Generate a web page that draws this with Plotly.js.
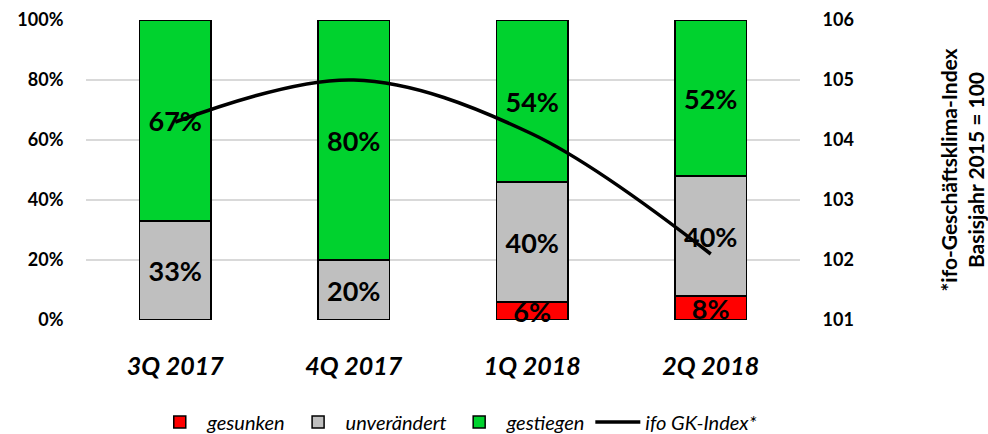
<!DOCTYPE html>
<html><head><meta charset="utf-8">
<script src="https://cdn.plot.ly/plotly-3.0.1.min.js"></script>
<style>body{margin:0;padding:0;background:#fff}#chart{width:988px;height:434px}</style>
</head><body><div id="chart"></div>
<script>
const categories = ["3Q 2017", "4Q 2017", "1Q 2018", "2Q 2018"];
const gesunken = [0, 0, 6, 8];
const unveraendert = [33, 20, 40, 40];
const gestiegen = [67, 80, 54, 52];
const ifoIndex = [104.3, 105.0, 104.1, 102.1];

const FONT = "Lato, 'Open Sans', sans-serif";
const lbl = arr => arr.map(v => v > 0 ? v + "%" : "");
function barTrace(name, vals, color) {
  return {
    type: "bar", name: name, x: categories, y: vals,
    marker: {color: color, line: {color: "#000", width: 1.5}},
    text: lbl(vals), textposition: "inside", insidetextanchor: "middle",
    constraintext: "none", cliponaxis: false,
    textfont: {family: FONT, size: 27, color: "#000", weight: 700},
    hoverinfo: "skip"
  };
}
const traces = [
  barTrace("gesunken", gesunken, "#FF0000"),
  barTrace("unverändert", unveraendert, "#BFBFBF"),
  barTrace("gestiegen", gestiegen, "#00D22E"),
  {type: "scatter", mode: "lines", name: "ifo GK-Index*", x: categories, y: ifoIndex,
   yaxis: "y2", line: {color: "#000", width: 3.5, shape: "spline", smoothing: 1}}
];
const layout = {
  width: 988, height: 434,
  margin: {l: 86, r: 188, t: 20, b: 114, autoexpand: false},
  barmode: "stack", bargap: 0.6,
  paper_bgcolor: "#fff", plot_bgcolor: "#fff",
  font: {family: FONT, color: "#000"},
  showlegend: true,
  legend: {orientation: "h", x: 0.52, xref: "paper", xanchor: "center",
    yref: "paper", y: -0.34, yanchor: "middle",
    font: {family: FONT, size: 20, style: "italic"}, traceorder: "normal", itemwidth: 45},
  xaxis: {tickfont: {family: FONT, size: 25, weight: 700, style: "italic"},
    showline: false, ticks: "outside", ticklen: 24, tickcolor: "rgba(0,0,0,0)", showgrid: false,
    automargin: false},
  yaxis: {range: [0, 100], dtick: 20, ticksuffix: "%", showgrid: true,
    gridcolor: "#D9D9D9", gridwidth: 1.5, zeroline: false, automargin: false,
    tickfont: {family: FONT, size: 18, weight: 700}, ticks: "outside", ticklen: 18, tickcolor: "rgba(0,0,0,0)"},
  yaxis2: {overlaying: "y", side: "right", range: [101, 106], dtick: 1, automargin: false,
    showgrid: false, zeroline: false, tickfont: {family: FONT, size: 18, weight: 700},
    ticks: "outside", ticklen: 18, tickcolor: "rgba(0,0,0,0)",
    title: {text: "*ifo-Geschäftsklima-Index<br>Basisjahr 2015 = 100",
      font: {family: FONT, size: 21, weight: 700}, standoff: 90}}
};
Plotly.newPlot("chart", traces, layout, {displayModeBar: false, staticPlot: true});
</script></body></html>
